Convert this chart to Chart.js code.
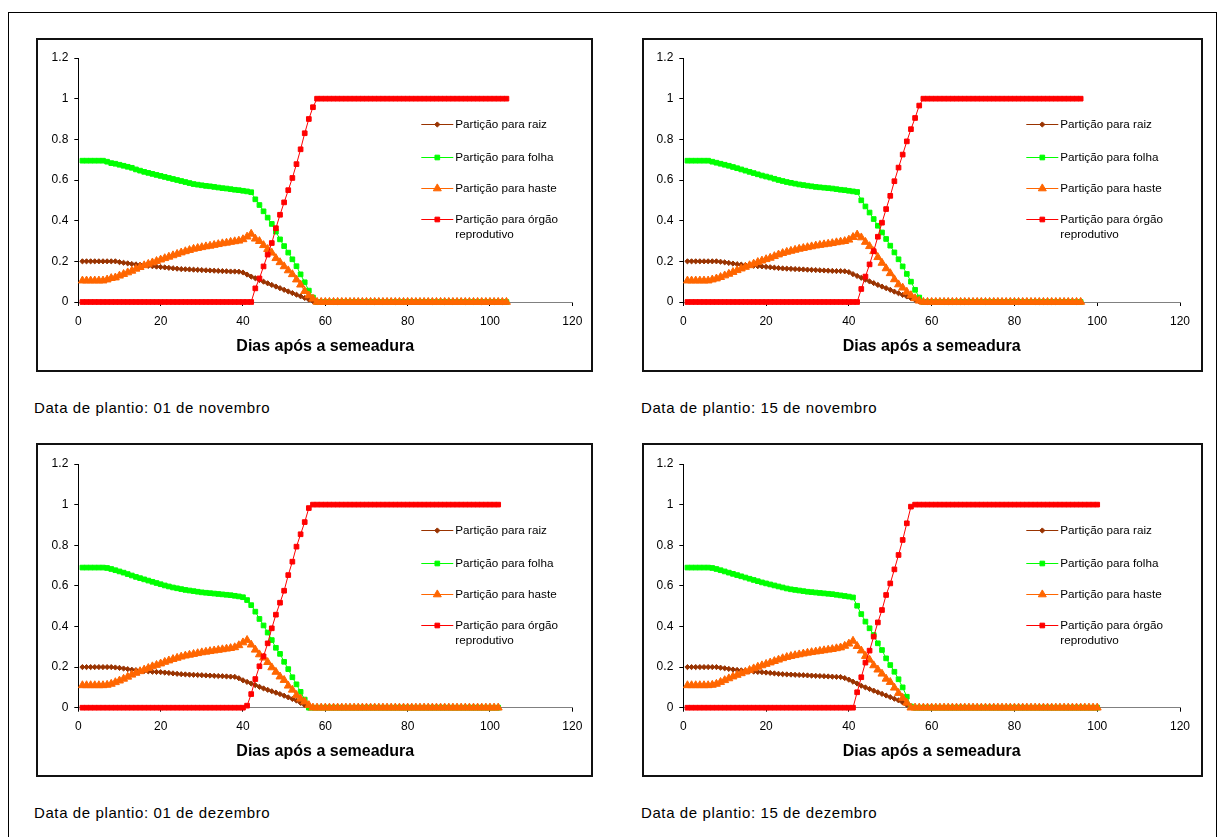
<!DOCTYPE html>
<html>
<head>
<meta charset="utf-8">
<script src="https://cdn.jsdelivr.net/npm/chart.js@4/dist/chart.umd.min.js"></script>
<style>
  html, body { margin: 0; padding: 0; background: #fff; overflow: hidden; }
  body { width: 1218px; height: 837px; position: relative; font-family: 'Liberation Sans', Arial, sans-serif; }
  .moldura { position: absolute; left: 8px; top: 12px; width: 1207px; height: 900px; border: 1px solid #000; }
  .caixa { position: absolute; border: 2px solid #111; box-sizing: border-box; height: 334px; }
  .caixa canvas { position: absolute; left: 0; top: 0; }
  .legenda { position: absolute; font-size: 15px; letter-spacing: 0.6px; line-height: 18px; color: #000; white-space: nowrap; }
</style>
</head>
<body>
<div class="moldura"></div>

<div class="caixa" style="left:36px; top:38px; width:557px;"><canvas id="g1" width="553" height="330"></canvas></div>
<div class="caixa" style="left:642px; top:38px; width:561px;"><canvas id="g2" width="557" height="330"></canvas></div>
<div class="caixa" style="left:36px; top:443px; width:557px;"><canvas id="g3" width="553" height="330"></canvas></div>
<div class="caixa" style="left:642px; top:443px; width:561px;"><canvas id="g4" width="557" height="330"></canvas></div>

<div class="legenda" style="left:34px; top:399px;">Data de plantio: 01 de novembro</div>
<div class="legenda" style="left:641px; top:399px;">Data de plantio: 15 de novembro</div>
<div class="legenda" style="left:34px; top:804px;">Data de plantio: 01 de dezembro</div>
<div class="legenda" style="left:641px; top:804px;">Data de plantio: 15 de dezembro</div>

<script>
// primeiro dia de cada série (dias após a semeadura)
const PRIMEIRO_DIA = 1;

const nomesSeries = ['Partição para raiz', 'Partição para folha', 'Partição para haste', ['Partição para órgão', 'reprodutivo']];
const tituloX = 'Dias após a semeadura';
const ticksY = [0, 0.2, 0.4, 0.6, 0.8, 1, 1.2];
const ticksX = [0, 20, 40, 60, 80, 100, 120];

// --- 01 de novembro (dias 1..104)
const raiz1 = [0.2,0.2,0.2,0.2,0.2,0.2,0.2,0.2,0.2,
  0.196,0.193,0.19,0.187,0.185,0.183,0.18,0.178,0.176,0.174,
  0.172,0.17,0.168,0.166,0.164,0.162,0.161,0.16,0.159,0.158,
  0.157,0.156,0.155,0.154,0.153,0.152,0.151,0.15,0.15,0.149,
  0.145,0.135,0.125,0.117,0.108,0.1,0.092,0.084,0.076,0.068,
  0.06,0.052,0.044,0.036,0.028,0.02,0.012,0.004,
  0,0,0,0,0,0,0,0,0,0, 0,0,0,0,0,0,0,0,0,0, 0,0,0,0,0,0,0,0,0,0, 0,0,0,0,0,0,0,0,0,0, 0,0,0,0,0,0,0];
const folha1 = [0.695,0.695,0.695,0.695,0.695,0.695,0.69,0.683,0.68,
  0.675,0.67,0.665,0.66,0.652,0.646,0.64,0.635,0.63,0.625,
  0.62,0.615,0.61,0.605,0.6,0.595,0.59,0.585,0.58,0.577,
  0.574,0.571,0.569,0.566,0.563,0.56,0.558,0.555,0.552,0.55,
  0.547,0.544,0.54,
  0.505,0.477,0.446,0.415,0.384,0.346,0.308,
  0.275,0.243,0.21,0.176,0.136,0.097,0.056,0.022,
  0,0,0,0,0,0,0,0,0,0, 0,0,0,0,0,0,0,0,0,0, 0,0,0,0,0,0,0,0,0,0, 0,0,0,0,0,0,0,0,0,0, 0,0,0,0,0,0,0];
const haste1 = [0.105,0.105,0.105,0.105,0.105,0.105,0.11,0.117,0.12,
  0.129,0.137,0.145,0.153,0.163,0.171,0.18,0.187,0.194,0.201,
  0.208,0.215,0.222,0.229,0.236,0.243,0.249,0.255,0.261,0.265,
  0.269,0.273,0.276,0.28,0.284,0.288,0.291,0.295,0.298,0.301,
  0.308,0.321,0.335,
  0.311,0.299,0.279,0.26,0.242,0.215,0.195,
  0.175,0.155,0.136,0.11,0.085,0.053,0.032,0.016,
  0,0,0,0,0,0,0,0,0,0, 0,0,0,0,0,0,0,0,0,0, 0,0,0,0,0,0,0,0,0,0, 0,0,0,0,0,0,0,0,0,0, 0,0,0,0,0,0,0];
const orgao1 = [0,0,0,0,0,0,0,0,0,0, 0,0,0,0,0,0,0,0,0,0, 0,0,0,0,0,0,0,0,0,0, 0,0,0,0,0,0,0,0,0,0, 0,0,
  0.067,0.116,0.175,0.233,0.29,0.363,0.429,
  0.49,0.55,0.61,0.678,0.751,0.83,0.9,0.958,
  1,1,1,1,1,1,1,1,1,1, 1,1,1,1,1,1,1,1,1,1, 1,1,1,1,1,1,1,1,1,1, 1,1,1,1,1,1,1,1,1,1, 1,1,1,1,1,1,1];

// --- 15 de novembro (dias 1..96)
const raiz2 = [0.2,0.2,0.2,0.2,0.2,0.2,0.2,0.2,0.198,
  0.195,0.192,0.189,0.186,0.184,0.182,0.18,0.178,0.176,0.175,
  0.173,0.171,0.169,0.167,0.165,0.164,0.163,0.162,0.161,0.16,
  0.159,0.158,0.157,0.156,0.155,0.154,0.153,0.152,0.152,0.151,
  0.147,0.137,0.128,0.119,0.11,0.101,0.093,0.084,0.076,0.068,
  0.06,0.051,0.043,0.035,0.027,0.019,0.011,0.003,
  0,0,0,0,0,0,0,0,0,0, 0,0,0,0,0,0,0,0,0,0, 0,0,0,0,0,0,0,0,0,0, 0,0,0,0,0,0,0,0,0];
const folha2 = [0.695,0.695,0.695,0.695,0.695,0.695,0.69,0.685,0.68,
  0.675,0.67,0.664,0.658,0.652,0.646,0.64,0.634,0.628,0.622,
  0.617,0.612,0.606,0.6,0.595,0.59,0.586,0.582,0.578,0.575,
  0.572,0.569,0.566,0.564,0.562,0.56,0.558,0.555,0.552,0.55,
  0.547,0.544,0.541,
  0.5,0.47,0.44,0.408,0.375,0.342,0.31,
  0.277,0.244,0.21,0.175,0.138,0.1,0.06,0.022,
  0,0,0,0,0,0,0,0,0,0, 0,0,0,0,0,0,0,0,0,0, 0,0,0,0,0,0,0,0,0,0, 0,0,0,0,0,0,0,0,0];
const haste2 = [0.105,0.105,0.105,0.105,0.105,0.105,0.11,0.115,0.122,
  0.13,0.138,0.147,0.156,0.164,0.172,0.18,0.188,0.196,0.203,
  0.21,0.217,0.225,0.233,0.24,0.246,0.251,0.256,0.261,0.265,
  0.269,0.273,0.277,0.28,0.283,0.286,0.289,0.293,0.296,0.299,
  0.306,0.319,0.331,
  0.317,0.295,0.274,0.249,0.22,0.192,0.165,
  0.141,0.111,0.086,0.07,0.05,0.033,0.018,0.006,
  0,0,0,0,0,0,0,0,0,0, 0,0,0,0,0,0,0,0,0,0, 0,0,0,0,0,0,0,0,0,0, 0,0,0,0,0,0,0,0,0];
const orgao2 = [0,0,0,0,0,0,0,0,0,0, 0,0,0,0,0,0,0,0,0,0, 0,0,0,0,0,0,0,0,0,0, 0,0,0,0,0,0,0,0,0,0, 0,0,
  0.064,0.125,0.185,0.25,0.321,0.39,0.457,
  0.522,0.594,0.661,0.725,0.79,0.85,0.905,0.966,
  1,1,1,1,1,1,1,1,1,1, 1,1,1,1,1,1,1,1,1,1, 1,1,1,1,1,1,1,1,1,1, 1,1,1,1,1,1,1,1,1];

// --- 01 de dezembro (dias 1..102)
const raiz3 = [0.2,0.2,0.2,0.2,0.2,0.2,0.2,0.2,0.198,
  0.196,0.193,0.19,0.187,0.185,0.183,0.181,0.179,0.177,0.176,
  0.175,0.173,0.171,0.169,0.167,0.165,0.164,0.163,0.162,0.161,
  0.16,0.159,0.158,0.157,0.156,0.155,0.154,0.153,0.152,0.145,
  0.135,0.127,0.119,0.111,0.103,0.095,0.088,0.081,0.074,0.067,
  0.059,0.051,0.043,0.035,0.024,0.012,
  0,0,0,0,0,0,0,0,0,0, 0,0,0,0,0,0,0,0,0,0, 0,0,0,0,0,0,0,0,0,0, 0,0,0,0,0,0,0,0,0,0, 0,0,0,0,0,0,0];
const folha3 = [0.69,0.69,0.69,0.69,0.69,0.69,0.688,0.683,0.677,
  0.671,0.665,0.658,0.651,0.644,0.638,0.632,0.626,0.62,0.614,
  0.608,0.602,0.597,0.592,0.588,0.584,0.58,0.577,0.574,0.571,
  0.568,0.566,0.564,0.562,0.56,0.558,0.556,0.554,0.551,0.548,
  0.544,
  0.53,0.505,0.473,0.437,0.405,0.37,0.333,0.295,0.265,
  0.226,0.19,0.15,0.115,0.078,0.04,
  0,0,0,0,0,0,0,0,0,0, 0,0,0,0,0,0,0,0,0,0, 0,0,0,0,0,0,0,0,0,0, 0,0,0,0,0,0,0,0,0,0, 0,0,0,0,0,0,0];
const haste3 = [0.11,0.11,0.11,0.11,0.11,0.11,0.112,0.117,0.125,
  0.133,0.142,0.152,0.162,0.171,0.179,0.187,0.195,0.203,0.21,
  0.217,0.225,0.232,0.239,0.245,0.251,0.256,0.26,0.264,0.268,
  0.272,0.275,0.278,0.281,0.284,0.287,0.29,0.293,0.297,0.307,
  0.321,0.333,
  0.31,0.285,0.262,0.246,0.224,0.198,0.176,0.153,
  0.136,0.108,0.088,0.062,0.044,0.03,0.012,
  0,0,0,0,0,0,0,0,0,0, 0,0,0,0,0,0,0,0,0,0, 0,0,0,0,0,0,0,0,0,0, 0,0,0,0,0,0,0,0,0,0, 0,0,0,0,0,0];
const orgao3 = [0,0,0,0,0,0,0,0,0,0, 0,0,0,0,0,0,0,0,0,0, 0,0,0,0,0,0,0,0,0,0, 0,0,0,0,0,0,0,0,0,0,
  0.01,0.067,0.141,0.204,0.253,0.317,0.391,0.458,0.517,
  0.576,0.653,0.719,0.793,0.854,0.914,0.983,
  1,1,1,1,1,1,1,1,1,1, 1,1,1,1,1,1,1,1,1,1, 1,1,1,1,1,1,1,1,1,1, 1,1,1,1,1,1,1,1,1,1, 1,1,1,1,1,1];

// --- 15 de dezembro (dias 1..100)
const raiz4 = [0.2,0.2,0.2,0.2,0.2,0.2,0.2,0.2,0.197,
  0.194,0.191,0.188,0.186,0.184,0.182,0.18,0.178,0.176,0.175,
  0.173,0.171,0.169,0.167,0.165,0.164,0.163,0.162,0.161,0.16,
  0.159,0.158,0.157,0.156,0.155,0.154,0.153,0.152,0.151,0.146,
  0.138,0.128,0.119,0.108,0.1,0.092,0.084,0.076,0.068,0.06,
  0.052,0.044,0.036,0.026,0.014,0.004,
  0,0,0,0,0,0,0,0,0,0, 0,0,0,0,0,0,0,0,0,0, 0,0,0,0,0,0,0,0,0,0, 0,0,0,0,0,0,0,0,0,0, 0,0,0,0,0];
const folha4 = [0.69,0.69,0.69,0.69,0.69,0.69,0.688,0.683,0.677,
  0.671,0.665,0.659,0.653,0.647,0.641,0.635,0.629,0.623,0.617,
  0.612,0.607,0.602,0.597,0.592,0.587,0.583,0.58,0.577,0.574,
  0.571,0.569,0.567,0.565,0.563,0.561,0.559,0.556,0.553,0.55,
  0.547,0.543,
  0.502,0.461,0.424,0.391,0.358,0.317,0.284,0.243,
  0.21,0.177,0.14,0.1,0.054,0.006,
  0,0,0,0,0,0,0,0,0,0, 0,0,0,0,0,0,0,0,0,0, 0,0,0,0,0,0,0,0,0,0, 0,0,0,0,0,0,0,0,0,0, 0,0,0,0,0];
const haste4 = [0.11,0.11,0.11,0.11,0.11,0.11,0.112,0.117,0.126,
  0.135,0.144,0.153,0.161,0.169,0.177,0.185,0.193,0.201,0.208,
  0.215,0.222,0.229,0.236,0.243,0.249,0.254,0.258,0.262,0.266,
  0.27,0.273,0.276,0.279,0.282,0.285,0.288,0.292,0.296,0.304,
  0.315,0.329,
  0.303,0.281,0.254,0.236,0.208,0.187,0.167,0.142,
  0.126,0.098,0.072,0.048,0.024,0,
  0,0,0,0,0,0,0,0,0,0, 0,0,0,0,0,0,0,0,0,0, 0,0,0,0,0,0,0,0,0,0, 0,0,0,0,0,0,0,0,0,0, 0,0,0,0,0];
const orgao4 = [0,0,0,0,0,0,0,0,0,0, 0,0,0,0,0,0,0,0,0,0, 0,0,0,0,0,0,0,0,0,0, 0,0,0,0,0,0,0,0,0,0, 0,
  0.076,0.15,0.222,0.281,0.35,0.42,0.481,0.555,
  0.612,0.681,0.752,0.826,0.908,0.99,
  1,1,1,1,1,1,1,1,1,1, 1,1,1,1,1,1,1,1,1,1, 1,1,1,1,1,1,1,1,1,1, 1,1,1,1,1,1,1,1,1,1, 1,1,1,1,1];

const FONTE = "'Liberation Sans', Arial, sans-serif";

// estilo de cada série: cor, marcador, tamanho, ordem de desenho
const estilos = [
  { cor: '#993300', marcador: 'rectRot', raio: 2.6, ordem: 4 },
  { cor: '#00ff00', marcador: 'rect', raio: 3.3, ordem: 3 },
  { cor: '#ff6600', marcador: 'triangle', raio: 4.6, ordem: 2 },
  { cor: '#ff0000', marcador: 'rect', raio: 3.3, ordem: 1 }
];

function desenhaMarcador(ctx, est, x, y) {
  ctx.fillStyle = est.cor;
  ctx.strokeStyle = est.cor;
  ctx.lineWidth = 1;
  if (Chart.helpers && Chart.helpers.drawPoint) {
    Chart.helpers.drawPoint(ctx, { pointStyle: est.marcador, radius: est.raio, borderWidth: 1, rotation: 0 }, x, y);
    return;
  }
  const r = est.raio;
  ctx.beginPath();
  if (est.marcador === 'triangle') {
    ctx.moveTo(x, y - r);
    ctx.lineTo(x + r * 0.866, y + r / 2);
    ctx.lineTo(x - r * 0.866, y + r / 2);
  } else if (est.marcador === 'rectRot') {
    ctx.moveTo(x, y - r); ctx.lineTo(x + r, y); ctx.lineTo(x, y + r); ctx.lineTo(x - r, y);
  } else {
    const s = r * Math.SQRT1_2;
    ctx.rect(x - s, y - s, 2 * s, 2 * s);
  }
  ctx.closePath();
  ctx.fill();
  ctx.stroke();
}

// legenda desenhada dentro da área do gráfico, como no original
const legendaDentro = {
  id: 'legendaDentro',
  afterDraw(chart) {
    const { ctx, chartArea } = chart;
    const x0 = chartArea.left + 343, x1 = chartArea.left + 375, xt = chartArea.left + 377;
    const linhasY = [66, 99, 129.5, 160.5];
    ctx.save();
    ctx.font = '11.7px ' + FONTE;
    ctx.textBaseline = 'middle';
    ctx.textAlign = 'left';
    estilos.forEach((est, i) => {
      const y = Math.round(chartArea.top + linhasY[i]);
      ctx.strokeStyle = est.cor;
      ctx.lineWidth = 1;
      ctx.beginPath();
      ctx.moveTo(x0, y + 0.5);
      ctx.lineTo(x1, y + 0.5);
      ctx.stroke();
      desenhaMarcador(ctx, est, (x0 + x1) / 2, y + 0.5);
      ctx.fillStyle = '#000';
      const nome = nomesSeries[i];
      const partes = Array.isArray(nome) ? nome : [nome];
      partes.forEach((t, k) => ctx.fillText(t, xt, y + 1 + k * 14.3));
    });
    ctx.restore();
  }
};

function fazGrafico(id, area, series) {
  const canvas = document.getElementById(id);
  const W = canvas.width, H = canvas.height;
  const datasets = series.map((valores, i) => {
    const est = estilos[i];
    return {
      label: Array.isArray(nomesSeries[i]) ? nomesSeries[i].join(' ') : nomesSeries[i],
      data: valores.map((v, k) => ({ x: PRIMEIRO_DIA + k, y: v })),
      borderColor: est.cor,
      backgroundColor: est.cor,
      borderWidth: 1,
      pointStyle: est.marcador,
      pointRadius: est.raio,
      pointBorderWidth: 1,
      pointBackgroundColor: est.cor,
      pointBorderColor: est.cor,
      tension: 0,
      order: est.ordem,
      clip: false
    };
  });
  const fonteTicks = { family: FONTE, size: 12 };
  return new Chart(canvas, {
    type: 'line',
    data: { datasets },
    plugins: [legendaDentro],
    options: {
      responsive: false,
      animation: false,
      events: [],
      layout: { padding: { left: 0, top: area.top, right: W - area.right, bottom: 0 } },
      plugins: { legend: { display: false }, tooltip: { enabled: false } },
      scales: {
        x: {
          type: 'linear',
          min: ticksX[0],
          max: ticksX[ticksX.length - 1],
          afterBuildTicks: s => { s.ticks = ticksX.map(v => ({ value: v })); },
          ticks: { color: '#000', font: fonteTicks, padding: 8, maxRotation: 0, autoSkip: false },
          grid: { drawOnChartArea: false, drawTicks: true, tickLength: 4, color: '#000' },
          border: { display: true, color: '#808080', width: 1 },
          title: {
            display: true, text: tituloX, color: '#000',
            font: { family: FONTE, size: 16, weight: 'bold' },
            padding: { top: 0, bottom: 13.4 }
          },
          afterFit: s => { s.height = H - area.bottom; s.paddingLeft = 0; s.paddingRight = 0; }
        },
        y: {
          type: 'linear',
          min: ticksY[0],
          max: ticksY[ticksY.length - 1],
          afterBuildTicks: s => { s.ticks = ticksY.map(v => ({ value: v })); },
          ticks: { color: '#000', font: fonteTicks, padding: 6, autoSkip: false, callback: v => String(Math.round(v * 10) / 10) },
          grid: { drawOnChartArea: false, drawTicks: true, tickLength: 4, color: '#000' },
          border: { display: true, color: '#000', width: 1 },
          afterFit: s => { s.width = area.left; s.paddingTop = 0; s.paddingBottom = 0; }
        }
      }
    }
  });
}

fazGrafico('g1', { left: 40.3, right: 534.3, top: 18, bottom: 262 }, [raiz1, folha1, haste1, orgao1]);
fazGrafico('g2', { left: 39.3, right: 536, top: 18, bottom: 262 }, [raiz2, folha2, haste2, orgao2]);
fazGrafico('g3', { left: 40.3, right: 534.3, top: 19, bottom: 262.7 }, [raiz3, folha3, haste3, orgao3]);
fazGrafico('g4', { left: 39.3, right: 536, top: 19, bottom: 262.7 }, [raiz4, folha4, haste4, orgao4]);
</script>
</body>
</html>
